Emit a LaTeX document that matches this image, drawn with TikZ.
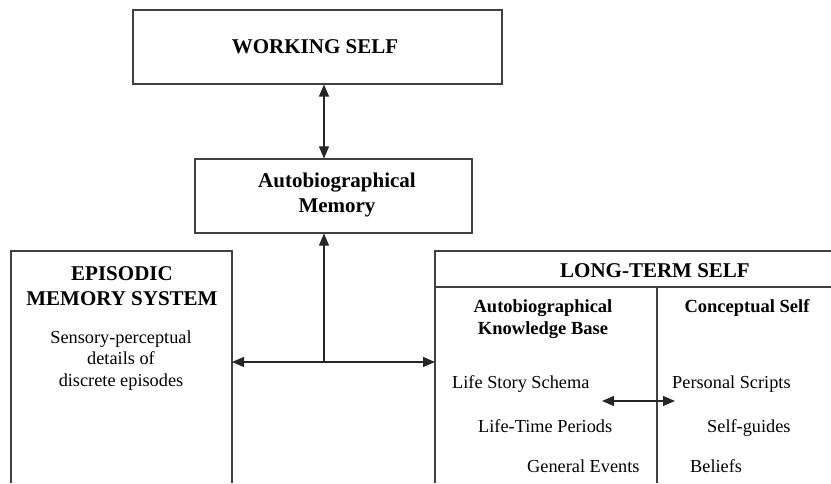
\documentclass[tikz,border=0pt]{standalone}
\usepackage{fontspec}
\setmainfont{Liberation Serif}
\usetikzlibrary{arrows.meta}
\tikzset{
  frame/.style={draw=black!75, line width=1.1pt},
  conn/.style={draw=black!85, line width=1.1pt, {Triangle[length=12pt,width=10pt]}-{Triangle[length=12pt,width=10pt]}},
  connone/.style={draw=black!85, line width=1.1pt, -{Triangle[length=12pt,width=10pt]}},
  title/.style={font=\fontsize{21}{25}\selectfont\bfseries, align=center, inner sep=0pt},
  sub/.style={font=\fontsize{18.5}{22}\selectfont\bfseries, align=center, inner sep=0pt},
  body/.style={font=\fontsize{18.3}{21.5}\selectfont, align=center, inner sep=0pt},
  item/.style={font=\fontsize{18.3}{21.5}\selectfont, inner sep=0pt, anchor=base west},
}
\begin{document}
\begin{tikzpicture}[x=1pt,y=1pt]
\useasboundingbox (0,0) rectangle (831,483);
% Working self
\node[frame, minimum width=369pt, minimum height=74pt, inner sep=0pt] (ws) at (317.5,436) {};
\node[title, anchor=base] (wst) at (315,429) {WORKING SELF};
% Autobiographical memory
\node[frame, minimum width=277pt, minimum height=74pt, inner sep=0pt] (am) at (333.5,287) {};
\node[title, anchor=base] (amt) at (337,270) {Autobiographical\\Memory};
% Episodic memory system (open at bottom)
\draw[frame] (11,0) -- (11,232) -- (232,232) -- (232,0);
\coordinate (epr) at (232,121);
\node[title, anchor=base] (ept) at (122,178) {EPISODIC\\MEMORY SYSTEM};
\node[body, anchor=base] (epb) at (121,97) {Sensory-perceptual\\details of\\discrete episodes};
% Long-term self (open at bottom and right)
\draw[frame] (435,0) -- (435,232) -- (831,232);
\draw[frame] (435,196) -- (831,196);
\draw[frame] (657,196) -- (657,0);
\coordinate (ltl) at (435,121);
\node[title, anchor=base] (ltt) at (655,206) {LONG-TERM SELF};
\node[sub, anchor=base] (akb) at (543,149) {Autobiographical\\Knowledge Base};
\node[sub, anchor=base] (cs) at (747,171) {Conceptual Self};
\node[item] (lss) at (452,95) {Life Story Schema};
\node[item] (ltp) at (478,51) {Life-Time Periods};
\node[item] (ge) at (527,11) {General Events};
\node[item] (ps) at (672,95) {Personal Scripts};
\node[item] (sg) at (707,51) {Self-guides};
\node[item] (bel) at (690,11) {Beliefs};
% Connectors
\coordinate (jn) at (324,121);
\draw[conn] (ws.south -| jn) -- (am.north -| jn);
\draw[conn] (epr) -- (ltl);
\draw[connone] (jn) -- (am.south -| jn);
\coordinate (ia) at (602,82);
\coordinate (ib) at (675,82);
\draw[conn] (ia) -- (ib);
\end{tikzpicture}
\end{document}
